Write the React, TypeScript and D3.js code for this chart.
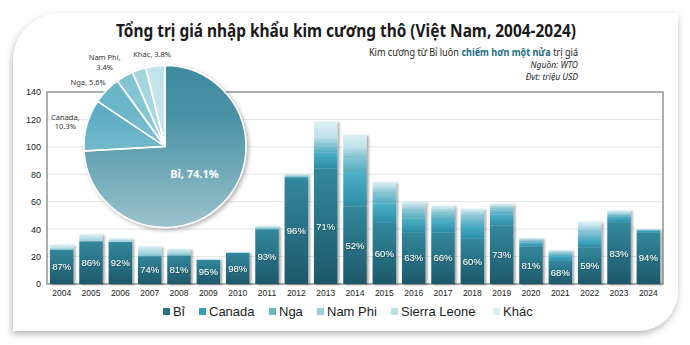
import * as d3 from "d3";
import { useEffect, useRef } from "react";

const years = [
  "2004", "2005", "2006", "2007", "2008", "2009", "2010", "2011", "2012", "2013", "2014",
  "2015", "2016", "2017", "2018", "2019", "2020", "2021", "2022", "2023", "2024",
];
const seriesNames = ["Bỉ", "Canada", "Nga", "Nam Phi", "Sierra Leone", "Khác"];

// triệu USD
const bi = [25.0, 31.1, 30.6, 20.3, 20.7, 17.7, 22.9, 39.6, 77.2, 84.1, 56.6, 44.6, 37.8, 37.7, 33.0, 42.8, 27.2, 16.9, 26.8, 44.6, 37.7];
const canada = [0, 0, 0, 0, 0, 0, 0, 0.5, 0.8, 12, 25, 14, 10, 9, 10, 8, 3, 3.5, 6, 4.5, 1.5];
const nga = [0, 0, 0, 0.5, 0.5, 0, 0, 0.5, 0.5, 5, 10, 7, 5, 4.5, 5.5, 3.5, 1.5, 2, 4.5, 1.5, 0.3];
const namPhi = [0.5, 0.5, 0.5, 1.5, 1.0, 0, 0, 0.5, 0.5, 3, 5, 3.5, 3, 2.5, 3, 2, 0.8, 1, 3, 1, 0.2];
const sierraLeone = [1.2, 2.5, 1.0, 3.0, 2.0, 0, 0, 0.8, 0.6, 3.4, 3.2, 2.2, 2, 1.5, 1.5, 1, 0.4, 0.5, 2, 0.8, 0.1];
const khac = [2.0, 2.1, 1.2, 2.2, 1.4, 0.9, 0.5, 0.7, 0.8, 11, 9, 3, 2.2, 1.9, 2, 1.3, 0.7, 0.9, 3.2, 1.3, 0.3];

// cơ cấu cả giai đoạn (%)
const pieShares = [74.1, 10.3, 5.6, 3.4, 2.8, 3.8];
const pieLabeled = [true, true, true, true, false, true];

const yTicks = [0, 20, 40, 60, 80, 100, 120, 140];

const barTop = ["#33889d", "#4cb1ca", "#7ec5d6", "#a2d4e0", "#c2e3eb", "#dcf0f5"];
const barBottom = ["#1d5869", "#2f8ca5", "#58abbf", "#7bbdcc", "#9dd0dc", "#c0e2ea"];
const legendColors = ["#286f83", "#3a9db7", "#6db6c9", "#98cedb", "#b8dfe8", "#d6edf3"];
const pieColors = ["#3f8ba0", "#54a9c0", "#64b3c7", "#82c3d2", "#a2d4df", "#c2e3eb"];

const W = 690;
const H = 345;

const App = () => {
  const svgRef = useRef<SVGSVGElement | null>(null);

  useEffect(() => {
    const svg = d3.select(svgRef.current);
    svg.selectAll("*").remove();
    svg.attr("width", W).attr("height", H);

    const defs = svg.append("defs");

    const cardShadow = defs.append("filter").attr("id", "card-shadow")
      .attr("x", "-5%").attr("y", "-5%").attr("width", "110%").attr("height", "115%");
    cardShadow.append("feDropShadow").attr("dx", -1).attr("dy", 3).attr("stdDeviation", 3.5)
      .attr("flood-color", "#000").attr("flood-opacity", 0.3);

    const barShadow = defs.append("filter").attr("id", "bar-shadow")
      .attr("x", "-20%").attr("y", "-10%").attr("width", "150%").attr("height", "120%");
    barShadow.append("feDropShadow").attr("dx", 2).attr("dy", 1).attr("stdDeviation", 1.2)
      .attr("flood-color", "#000").attr("flood-opacity", 0.35);

    const pieShadow = defs.append("filter").attr("id", "pie-shadow")
      .attr("x", "-20%").attr("y", "-20%").attr("width", "140%").attr("height", "140%");
    pieShadow.append("feDropShadow").attr("dx", 2).attr("dy", 2).attr("stdDeviation", 2)
      .attr("flood-color", "#000").attr("flood-opacity", 0.3);

    const textShadow = defs.append("filter").attr("id", "text-shadow");
    textShadow.append("feDropShadow").attr("dx", 0.5).attr("dy", 0.5).attr("stdDeviation", 0.4)
      .attr("flood-color", "#000").attr("flood-opacity", 0.5);

    seriesNames.forEach((_, i) => {
      const g = defs.append("linearGradient").attr("id", `bar-g-${i}`)
        .attr("x1", 0).attr("y1", 0).attr("x2", 0).attr("y2", 1);
      g.append("stop").attr("offset", "0%").attr("stop-color", barTop[i]);
      g.append("stop").attr("offset", "100%").attr("stop-color", barBottom[i]);
    });

    // white sheen laid over the whole pie, stronger towards the bottom
    const sheen = defs.append("linearGradient").attr("id", "pie-sheen")
      .attr("x1", 0).attr("y1", 0).attr("x2", 0).attr("y2", 1);
    sheen.append("stop").attr("offset", "0%").attr("stop-color", "#fff").attr("stop-opacity", 0);
    sheen.append("stop").attr("offset", "30%").attr("stop-color", "#fff").attr("stop-opacity", 0.05);
    sheen.append("stop").attr("offset", "100%").attr("stop-color", "#fff").attr("stop-opacity", 0.48);

    // card with two rounded corners
    const cx0 = 13, cy0 = 13, cx1 = 678, cy1 = 331, r1 = 48, r2 = 40;
    svg.append("path")
      .attr("d", `M${cx0},${cy0 + r1} A${r1},${r1} 0 0 1 ${cx0 + r1},${cy0} H${cx1} V${cy1 - r2} A${r2},${r2} 0 0 1 ${cx1 - r2},${cy1} H${cx0} Z`)
      .attr("fill", "#fff")
      .attr("filter", "url(#card-shadow)");

    // titles
    svg.append("text")
      .attr("x", 346).attr("y", 37)
      .attr("text-anchor", "middle")
      .attr("font-family", "'Noto Sans', sans-serif")
      .attr("font-weight", "bold").attr("font-size", 17)
      .attr("textLength", 460).attr("lengthAdjust", "spacingAndGlyphs")
      .attr("fill", "#1a1a1a")
      .text("Tổng trị giá nhập khẩu kim cương thô (Việt Nam, 2004-2024)");

    // subtitle: three runs, squeezed together into a fixed width
    const subParts = [
      { t: "Kim cương từ Bỉ luôn", bold: false },
      { t: "chiếm hơn một nửa", bold: true },
      { t: "trị giá", bold: false },
    ];
    const subRight = 578, subWidth = 209, gap = 2.6;
    const subTexts = subParts.map((p) =>
      svg.append("text")
        .attr("y", 55.5)
        .attr("font-family", "'Noto Sans', sans-serif")
        .attr("font-size", 10)
        .attr("font-weight", p.bold ? "bold" : "normal")
        .attr("fill", p.bold ? "#1d6d80" : "#222")
        .text(p.t)
    );
    const natural = subTexts.map((s) => (s.node() as SVGTextElement).getComputedTextLength());
    const k = (subWidth - gap * 2) / d3.sum(natural);
    let sx = subRight - subWidth;
    subTexts.forEach((s, i) => {
      const w = natural[i] * k;
      s.attr("x", sx).attr("textLength", w).attr("lengthAdjust", "spacingAndGlyphs");
      sx += w + gap;
    });

    [["Nguồn: WTO", 68], ["Đvt: triệu USD", 79.5]].forEach(([t, y]) => {
      svg.append("text")
        .attr("x", 578).attr("y", y as number)
        .attr("text-anchor", "end")
        .attr("font-family", "'Noto Sans', sans-serif")
        .attr("font-style", "italic").attr("font-size", 8.5)
        .attr("fill", "#222")
        .text(t as string);
    });

    // plot area
    const left = 47, right = 663, top = 92, bottom = 284;
    const x = d3.scaleBand<string>().domain(years).range([left, right])
      .paddingInner(0.2).paddingOuter(0.1);
    const y = d3.scaleLinear().domain([0, 140]).range([bottom, top]);

    svg.append("g")
      .selectAll("line")
      .data(yTicks.slice(1, -1))
      .join("line")
      .attr("x1", left).attr("x2", right)
      .attr("y1", (d) => y(d)).attr("y2", (d) => y(d))
      .attr("stroke", "#e4e4e4").attr("stroke-width", 1);

    svg.append("rect")
      .attr("x", left).attr("y", top)
      .attr("width", right - left).attr("height", bottom - top)
      .attr("fill", "none").attr("stroke", "#7a7a7a").attr("stroke-width", 1.2);

    const yAxis = svg.append("g")
      .attr("transform", `translate(${left},0)`)
      .call(d3.axisLeft(y).tickValues(yTicks).tickSize(0).tickPadding(6));
    yAxis.select(".domain").remove();
    yAxis.selectAll("text")
      .attr("font-family", "'Liberation Sans', Arial, sans-serif")
      .attr("font-size", 9).attr("fill", "#222");

    const xAxis = svg.append("g")
      .attr("transform", `translate(0,${bottom})`)
      .call(d3.axisBottom(x).tickSize(0).tickPadding(6));
    xAxis.select(".domain").remove();
    xAxis.selectAll("text")
      .attr("font-family", "'Liberation Sans', Arial, sans-serif")
      .attr("font-size", 8.5).attr("fill", "#222");

    // stacked bars
    const series = [bi, canada, nga, namPhi, sierraLeone, khac];
    const table = years.map((yr, i) => {
      const row: Record<string, number | string> = { year: yr };
      seriesNames.forEach((s, k) => (row[s] = series[k][i]));
      return row;
    });
    const stacked = d3.stack<Record<string, number | string>>().keys(seriesNames)(table as any);

    const barGroups = svg.append("g")
      .selectAll("g")
      .data(years)
      .join("g")
      .attr("filter", "url(#bar-shadow)");

    barGroups.each(function (yr, i) {
      const g = d3.select(this);
      stacked.forEach((layer, k) => {
        const [y0, y1] = layer[i];
        if (y1 - y0 <= 0) return;
        g.append("rect")
          .attr("x", x(yr)!)
          .attr("width", x.bandwidth())
          .attr("y", y(y1))
          .attr("height", y(y0) - y(y1))
          .attr("fill", `url(#bar-g-${k})`);
      });
    });

    // Bỉ share label in the middle of the Bỉ segment
    svg.append("g")
      .selectAll("text")
      .data(years)
      .join("text")
      .attr("x", (d) => x(d)! + x.bandwidth() / 2)
      .attr("y", (_, i) => y(bi[i] / 2))
      .attr("dy", "0.35em")
      .attr("text-anchor", "middle")
      .attr("font-family", "'Liberation Sans', Arial, sans-serif")
      .attr("font-size", 9.5)
      .attr("fill", "#fff")
      .attr("filter", "url(#text-shadow)")
      .text((_, i) => {
        const total = series.reduce((s, arr) => s + arr[i], 0);
        return `${Math.round((bi[i] / total) * 100)}%`;
      });

    // legend
    const legendX = [163, 199, 269, 317, 391, 493];
    const legend = svg.append("g")
      .selectAll("g")
      .data(seriesNames)
      .join("g")
      .attr("transform", (_, i) => `translate(${legendX[i]},311)`);
    legend.append("rect")
      .attr("x", 0).attr("y", -3).attr("width", 7).attr("height", 7)
      .attr("fill", (_, i) => legendColors[i]);
    legend.append("text")
      .attr("x", 10).attr("y", 0).attr("dy", "0.35em")
      .attr("font-family", "'Liberation Sans', Arial, sans-serif")
      .attr("font-size", 13).attr("fill", "#222")
      .text((d) => d);

    // pie inset
    const pcx = 165, pcy = 146.5, pr = 81;
    const pie = d3.pie<number>().sort(null).value((d) => d);
    const arcs = pie(pieShares);
    const arc = d3.arc<d3.PieArcDatum<number>>().innerRadius(0).outerRadius(pr);
    const labelArc = d3.arc<d3.PieArcDatum<number>>().innerRadius(89).outerRadius(89);

    const pieG = svg.append("g").attr("transform", `translate(${pcx},${pcy})`);
    const slices = pieG.append("g").attr("filter", "url(#pie-shadow)");
    slices.selectAll("path")
      .data(arcs)
      .join("path")
      .attr("d", arc)
      .attr("fill", (_, i) => pieColors[i]);
    slices.append("rect")
      .attr("x", -pr).attr("y", -pr)
      .attr("width", pr * 2).attr("height", pr * 2)
      .attr("rx", pr).attr("ry", pr)
      .attr("fill", "url(#pie-sheen)");
    slices.append("g")
      .selectAll("path")
      .data(arcs)
      .join("path")
      .attr("d", arc)
      .attr("fill", "none")
      .attr("stroke", "#fff")
      .attr("stroke-width", 1.5)
      .attr("stroke-linejoin", "round");

    const [bx, by] = arc.centroid(arcs[0]);
    pieG.append("text")
      .attr("x", bx).attr("y", by)
      .attr("dy", "0.35em")
      .attr("text-anchor", "middle")
      .attr("font-family", "'Noto Sans', sans-serif")
      .attr("font-weight", "bold").attr("font-size", 11)
      .attr("fill", "#fff")
      .text(`${seriesNames[0]}, ${pieShares[0]}%`);

    // outside labels: pushed out from the rim by half their own box
    arcs.filter((_, i) => i > 0 && pieLabeled[i]).forEach((a) => {
      const i = a.index;
      const [px, py] = labelArc.centroid(a);
      const mid = (a.startAngle + a.endAngle) / 2;
      const name = seriesNames[i];
      const pct = `${pieShares[i]}%`;
      const twoLines = name === "Canada" || name === "Nam Phi";
      const t = pieG.append("text")
        .attr("text-anchor", "middle")
        .attr("font-family", "'Noto Sans', sans-serif")
        .attr("font-size", 7.5)
        .attr("fill", "#333");
      const lines = twoLines ? [`${name},`, pct] : [`${name}, ${pct}`];
      const spans = lines.map((l) => t.append("tspan").attr("x", 0).text(l));
      const w = d3.max(spans, (s) => (s.node() as SVGTSpanElement).getComputedTextLength()) || 0;
      const lh = 9.5;
      const h = lines.length * lh;
      const nudge = name === "Nam Phi" ? -8 : 0;
      const lx = px + Math.sin(mid) * w / 2 + nudge;
      const ly = py - Math.cos(mid) * h / 2;
      spans.forEach((s, k) => s.attr("x", lx).attr("y", ly - h / 2 + 8.5 + k * lh));
    });
  }, []);

  return (
    <div style={{ position: "absolute", left: 0, top: 0, width: W, height: H, background: "#fff" }}>
      <svg ref={svgRef}></svg>
    </div>
  );
};

export default App;
